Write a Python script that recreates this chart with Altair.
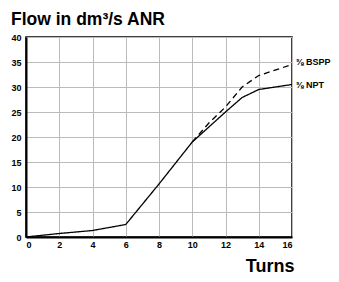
import altair as alt
import pandas as pd

turns_npt = [0, 2, 4, 6, 8, 10, 12, 13, 14, 16]
flow_npt = [0, 0.7, 1.3, 2.5, 10.6, 19.0, 25.0, 27.9, 29.5, 30.5]
turns_bspp = [10, 11, 12, 13, 14, 16]
flow_bspp = [19.0, 22.8, 26.0, 30.0, 32.3, 34.5]
series = ["⅜ NPT", "⅜ BSPP"]
label_y = [30.5, 35.0]
x_ticks = list(range(0, 17, 2))
y_ticks = list(range(0, 41, 5))

rows = []
for t, f in zip(turns_npt, flow_npt):
    rows.append({"turns": t, "flow": f, "series": series[0]})
for t, f in zip(turns_bspp, flow_bspp):
    rows.append({"turns": t, "flow": f, "series": series[1]})
df = pd.DataFrame(rows)
lab = pd.DataFrame({"turns": [16, 16], "flow": label_y, "series": series})

FONT = "Liberation Sans"

x = alt.X("turns:Q", scale=alt.Scale(domain=[0, 16], nice=False),
          axis=alt.Axis(values=x_ticks, title="Turns",
                        titleFontSize=18, titleFontWeight="bold", titleFont=FONT,
                        titleColor="black",
                        titleAnchor="end", titleAlign="right", titleX=268, titleY=34,
                        titleBaseline="alphabetic",
                        labelFontSize=9, labelFontWeight="bold", labelFont=FONT,
                        labelColor="black", labelPadding=3, labelOverlap=False,
                        ticks=False, domainColor="black", domainWidth=2,
                        gridColor="#bbbbbb", gridWidth=1))
y = alt.Y("flow:Q", scale=alt.Scale(domain=[0, 40], nice=False),
          axis=alt.Axis(values=y_ticks, title=None,
                        labelFontSize=9, labelFontWeight="bold", labelFont=FONT,
                        labelColor="black", labelPadding=5, labelOverlap=False,
                        ticks=False, domainColor="black", domainWidth=2,
                        gridColor="#bbbbbb", gridWidth=1))

lines = alt.Chart(df).mark_line(color="black", strokeWidth=1.3).encode(
    x=x, y=y,
    strokeDash=alt.StrokeDash("series:N",
                              scale=alt.Scale(domain=series, range=[[1, 0], [6, 4]]),
                              legend=None),
    detail="series:N",
)

labels = alt.Chart(lab).mark_text(align="left", baseline="middle", dx=4,
                                  font=FONT, fontSize=9, fontWeight="bold",
                                  color="black").encode(
    x=x, y=y, text="series:N")

chart = alt.layer(lines, labels).properties(
    width=266, height=200,
    title=alt.TitleParams("Flow in dm³/s ANR", anchor="start", frame="group",
                          dx=-15, offset=5, fontSize=17.5, fontWeight="bold",
                          font=FONT, color="black"),
    padding={"left": 18, "top": 29, "right": 39, "bottom": 37},
    autosize=alt.AutoSizeParams(type="none"),
).configure_view(stroke="black", strokeWidth=1.5)

chart.save("out.html", embed_options={"renderer": "svg", "actions": False})
